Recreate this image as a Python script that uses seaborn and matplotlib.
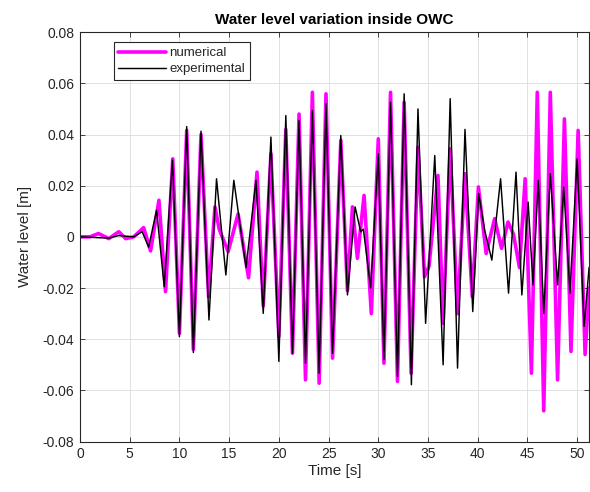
import matplotlib
matplotlib.use("Agg")
import matplotlib.pyplot as plt
import seaborn as sns
import pandas as pd

# ---- data (extrema of each oscillation) ----
t_num = [0.0, 1.0, 1.86, 2.9, 3.9, 4.6, 5.4, 6.4, 7.1, 7.94, 8.6, 9.33, 10.0, 10.73, 11.4,
         12.17, 12.93, 13.57, 14.0, 14.25, 14.9, 15.9, 16.95, 17.8, 18.43, 19.2, 20.0, 20.7,
         21.37, 22.03, 22.68, 23.37, 24.05, 24.74, 25.4, 26.23, 26.9, 27.4, 27.9, 28.57,
         29.3, 30.0, 30.57, 31.23, 31.93, 32.6, 33.3, 33.99, 34.65, 35.1, 36.0, 36.52,
         37.23, 37.97, 38.72, 39.45, 40.07, 40.85, 41.7, 42.4, 43.05, 43.6, 44.2, 44.77,
         45.4, 45.99, 46.64, 47.3, 48.03, 48.72, 49.38, 50.1, 50.8, 51.2]
h_num = [0.0, 0.0, 0.0013, -0.0007, 0.002, -0.0007, 0.0, 0.0036, -0.0055, 0.0143, -0.0214,
         0.0305, -0.0377, 0.0416, -0.044, 0.040, -0.0234, 0.0117, 0.003, 0.0005, -0.0058,
         0.009, -0.016, 0.0253, -0.027, 0.0325, -0.039, 0.042, -0.0455, 0.048, -0.0559,
         0.0565, -0.0572, 0.0559, -0.0474, 0.0377, -0.021, 0.0117, -0.0084, 0.0162, -0.030,
         0.0383, -0.0494, 0.0565, -0.0565, 0.0526, -0.0533, 0.035, -0.0156, -0.0115, 0.024,
         -0.0338, 0.0344, -0.030, 0.0247, -0.0234, 0.0195, -0.0065, 0.0071, -0.0045, 0.0058,
         0.001, -0.012, 0.0227, -0.0533, 0.0565, -0.068, 0.0565, -0.0559, 0.0461, -0.0448,
         0.0416, -0.046, -0.02]

t_exp = [0.0, 2.9, 3.9, 5.4, 6.25, 6.9, 7.7, 8.47, 9.3, 10.0, 10.73, 11.4, 12.17, 12.97,
         13.73, 14.67, 15.47, 16.7, 17.7, 18.43, 19.2, 20.0, 20.7, 21.37, 22.03, 22.68,
         23.37, 24.05, 24.74, 25.4, 26.23, 26.9, 27.67, 28.23, 28.5, 29.23, 30.0, 30.57,
         31.23, 31.93, 32.6, 33.33, 33.99, 34.76, 35.68, 36.52, 37.23, 37.97, 38.72, 39.5,
         40.1, 40.7, 41.42, 42.3, 43.1, 43.85, 44.44, 45.07, 45.56, 46.09, 46.64, 47.3,
         48.03, 48.65, 49.28, 50.0, 50.7, 51.2]
h_exp = [0.0, -0.0005, 0.0005, 0.0, 0.002, -0.004, 0.0104, -0.0195, 0.030, -0.039, 0.0431,
         -0.0452, 0.0413, -0.0325, 0.0227, -0.0149, 0.0221, -0.012, 0.0221, -0.0299, 0.039,
         -0.0487, 0.0474, -0.0455, 0.0455, -0.0494, 0.0494, -0.0533, 0.052, -0.0455, 0.0396,
         -0.0227, 0.0117, 0.002, 0.003, -0.020, 0.0325, -0.048, 0.0526, -0.0546, 0.0559,
         -0.0578, 0.050, -0.0338, 0.0318, -0.050, 0.054, -0.0513, 0.042, -0.0292, 0.0169,
         0.0026, -0.0091, 0.0227, -0.022, 0.0253, -0.0227, 0.0136, -0.0188, 0.0221, -0.030,
         0.0247, -0.0188, 0.0195, -0.022, 0.0305, -0.035, -0.012]

x_ticks = [0, 5, 10, 15, 20, 25, 30, 35, 40, 45, 50]
y_ticks = [-0.08, -0.06, -0.04, -0.02, 0, 0.02, 0.04, 0.06, 0.08]
y_tick_labels = ["-0.08", "-0.06", "-0.04", "-0.02", "0", "0.02", "0.04", "0.06", "0.08"]

title = "Water level variation inside OWC"
series_names = ["numerical", "experimental"]

# ---- style ----
sns.set_theme(style="whitegrid")
plt.rcParams["font.family"] = ["Liberation Sans", "DejaVu Sans"]

fig = plt.figure(figsize=(5.9, 4.92), dpi=100)
ax = fig.add_axes([0.1356, 0.1026, 0.862, 0.832])

df_num = pd.DataFrame({"t": t_num, "h": h_num})
df_exp = pd.DataFrame({"t": t_exp, "h": h_exp})

sns.lineplot(data=df_num, x="t", y="h", ax=ax, color="#FF00FF", linewidth=2.6,
             label=series_names[0], sort=False, estimator=None,
             solid_joinstyle="round", solid_capstyle="round")
sns.lineplot(data=df_exp, x="t", y="h", ax=ax, color="#000000", linewidth=1.05,
             label=series_names[1], sort=False, estimator=None,
             solid_joinstyle="round", solid_capstyle="round")

ax.set_xlim(0, 51.15)
ax.set_ylim(-0.08, 0.08)
ax.set_xticks(x_ticks)
ax.set_xticklabels([str(v) for v in x_ticks])
ax.set_yticks(y_ticks)
ax.set_yticklabels(y_tick_labels)

ax.set_facecolor("white")
ax.grid(True, color="#dcdcdc", linewidth=0.6)
for s in ax.spines.values():
    s.set_color("#262626")
    s.set_linewidth(0.8)
    s.set_visible(True)

ax.tick_params(axis="both", which="both", direction="in", length=3.5, width=0.6,
               colors="#262626", labelsize=10, top=True, right=True,
               bottom=True, left=True, pad=4)

ax.set_xlabel("Time [s]", fontsize=11, color="#262626", labelpad=2)
ax.set_ylabel("Water level [m]", fontsize=11, color="#262626", labelpad=8)
ax.set_title(title, fontsize=11, fontweight="bold", color="#000000", pad=6)

leg = ax.legend(loc="upper left", bbox_to_anchor=(0.066, 0.975), fontsize=9.5,
                frameon=True, fancybox=False, edgecolor="#262626", framealpha=1,
                handlelength=3.6, handletextpad=0.3, borderpad=0.35,
                labelspacing=0.3, borderaxespad=0)
leg.get_frame().set_linewidth(0.8)

fig.savefig("out.png", dpi=100)
